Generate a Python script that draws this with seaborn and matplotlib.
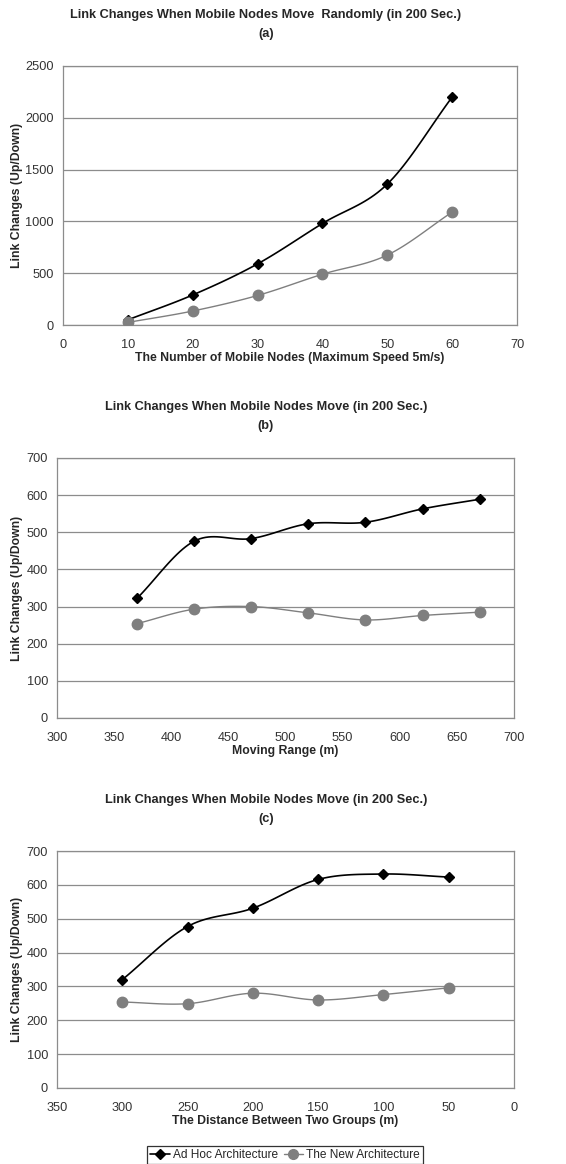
import numpy as np
import pandas as pd
import matplotlib
matplotlib.use("Agg")
import matplotlib.pyplot as plt
from matplotlib.lines import Line2D
import seaborn as sns

# data
nodes = [10, 20, 30, 40, 50, 60]
a_adhoc = [50, 290, 590, 980, 1360, 2200]
a_new = [25, 135, 285, 490, 675, 1090]

moving_range = [370, 420, 470, 520, 570, 620, 670]
b_adhoc = [322, 476, 483, 523, 527, 563, 589]
b_new = [254, 293, 300, 283, 264, 276, 285]

distance = [300, 250, 200, 150, 100, 50]
c_adhoc = [320, 477, 531, 616, 632, 623]
c_new = [254, 249, 280, 260, 276, 296]

series_names = ["Ad Hoc Architecture", "The New Architecture"]

sns.set_style("white")
plt.rcParams["font.family"] = ["Liberation Sans", "DejaVu Sans"]

W, H = 566, 1164
fig = plt.figure(figsize=(W / 100, H / 100), dpi=100)
GRID = "#8c8c8c"
NEWC = "#7f7f7f"


def smooth(x, y, n=20):
    # catmull-rom style curve between the data points (like excel smoothed lines)
    x = np.asarray(x, float)
    y = np.asarray(y, float)
    px = np.concatenate([[2 * x[0] - x[1]], x, [2 * x[-1] - x[-2]]])
    py = np.concatenate([[2 * y[0] - y[1]], y, [2 * y[-1] - y[-2]]])
    xs, ys = [], []
    t = np.linspace(0, 1, n, endpoint=False)
    for i in range(1, len(px) - 2):
        for p, out in ((px, xs), (py, ys)):
            p0, p1, p2, p3 = p[i - 1], p[i], p[i + 1], p[i + 2]
            out.extend(0.5 * ((2 * p1) + (-p0 + p2) * t
                              + (2 * p0 - 5 * p1 + 4 * p2 - p3) * t ** 2
                              + (-p0 + 3 * p1 - 3 * p2 + p3) * t ** 3))
    xs.append(x[-1])
    ys.append(y[-1])
    return np.array(xs), np.array(ys)


def panel(box, x, adhoc, new, xlim, xticks, ylim, yticks, title, xlabel):
    l, t, r, b = box
    ax = fig.add_axes([l / W, 1 - b / H, (r - l) / W, (b - t) / H])
    for vals, col, mk, ms, lw in ((adhoc, "black", "D", 5.5, 1.2),
                                  (new, NEWC, "o", 7.5, 1.0)):
        sx, sy = smooth(x, vals)
        sns.lineplot(x=sx, y=sy, ax=ax, color=col, lw=lw, sort=False,
                     estimator=None)
        df = pd.DataFrame({"x": x, "y": vals})
        ax.plot(df["x"], df["y"], ls="none", marker=mk, ms=ms, color=col,
                mec=col, zorder=5)
    ax.set_xlim(*xlim)
    ax.set_ylim(*ylim)
    ax.set_xticks(xticks)
    ax.set_yticks(yticks)
    ax.yaxis.grid(True, color=GRID, lw=0.9)
    ax.set_axisbelow(True)
    for s in ax.spines.values():
        s.set_color(GRID)
        s.set_linewidth(0.9)
    ax.tick_params(axis="both", labelsize=9.2, colors="#333333", length=4,
                   color=GRID, width=0.9, direction="out")
    ax.tick_params(axis="y", length=3)
    ax.tick_params(axis="x", pad=6)
    ax.set_xlabel("")
    ax.set_ylabel("")
    cx = 266
    fig.text(cx / W, 1 - (t - 51) / H, title[0], ha="center", va="center",
             fontsize=9.2, fontweight="bold")
    fig.text(cx / W, 1 - (t - 32) / H, title[1], ha="center", va="center",
             fontsize=9.2, fontweight="bold")
    fig.text(((l + r) / 2) / W, 1 - (b + 33) / H, xlabel, ha="center",
             va="center", fontsize=8.8, fontweight="bold")
    fig.text(17 / W, 1 - ((t + b) / 2) / H, "Link Changes (Up/Down)",
             rotation=90, ha="center", va="center", fontsize=8.8,
             fontweight="bold")
    return ax


panel((63, 66, 517, 325), nodes, a_adhoc, a_new, (0, 70), range(0, 71, 10),
      (0, 2500), range(0, 2501, 500),
      ["Link Changes When Mobile Nodes Move  Randomly (in 200 Sec.)", "(a)"],
      "The Number of Mobile Nodes (Maximum Speed 5m/s)")
panel((57, 458, 514, 718), moving_range, b_adhoc, b_new, (300, 700),
      range(300, 701, 50), (0, 700), range(0, 701, 100),
      ["Link Changes When Mobile Nodes Move (in 200 Sec.)", "(b)"],
      "Moving Range (m)")
axc = panel((57, 851, 514, 1088), distance, c_adhoc, c_new, (350, 0),
            range(350, -1, -50), (0, 700), range(0, 701, 100),
            ["Link Changes When Mobile Nodes Move (in 200 Sec.)", "(c)"],
            "The Distance Between Two Groups (m)")

handles = [Line2D([], [], color="black", marker="D", ms=5, lw=1.2),
           Line2D([], [], color=NEWC, marker="o", ms=7, lw=1.0)]
leg = fig.legend(handles, series_names, loc="center", ncol=2,
                 bbox_to_anchor=(285 / W, 1 - 1155 / H), fontsize=8.6,
                 frameon=True, fancybox=False, handlelength=1.6,
                 handletextpad=0.25, columnspacing=0.5, borderpad=0.25,
                 borderaxespad=0)
leg.get_frame().set_edgecolor("black")
leg.get_frame().set_linewidth(0.9)

fig.savefig("out.png", dpi=100)
